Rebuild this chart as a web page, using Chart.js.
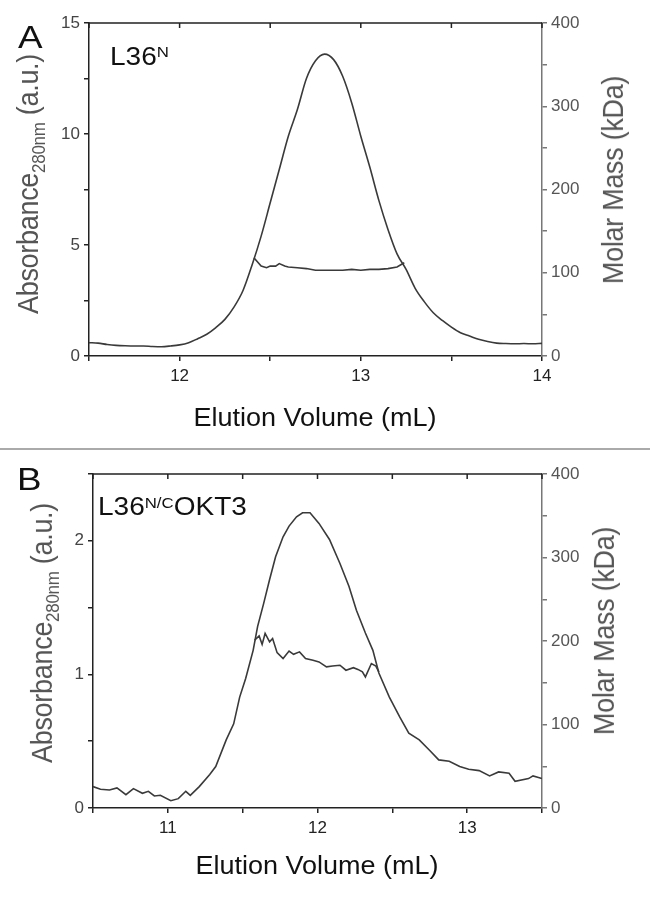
<!DOCTYPE html>
<html>
<head>
<meta charset="utf-8">
<script src="https://cdn.jsdelivr.net/npm/chart.js@4.4.1/dist/chart.umd.min.js"></script>
<style>
  body { margin: 0; background: #fff; }
  #wrap { position: relative; width: 650px; height: 900px; overflow: hidden;
          font-family: "Liberation Sans", Arial, sans-serif; }
  canvas { position: absolute; left: 0; }
  .t { position: absolute; white-space: nowrap; line-height: 1; color: #111; transform-origin: left top; }
  .yt { position: absolute; white-space: nowrap; line-height: 1; color: #555; font-size: 27px; letter-spacing: -0.3px; }
  .xt { position: absolute; white-space: nowrap; line-height: 1; color: #111; font-size: 25px; }
  .sub { font-size: 17px; position: relative; top: 6px; }
  .sup { position: relative; }
  #divider { position: absolute; left: 0; top: 448px; width: 650px; height: 2px; background: #aaa; }
</style>
</head>
<body>
<div id="wrap">
  <canvas id="chartA" width="650" height="449" style="top:0"></canvas>
  <canvas id="chartB" width="650" height="449" style="top:451px"></canvas>
  <div id="divider"></div>

  <div class="t" style="left:18px;top:21px;font-size:32px;transform:scaleX(1.15)">A</div>
  <div class="t" style="left:110px;top:44px;font-size:25px;transform:scaleX(1.12)">L36<span class="sup" style="font-size:15px;top:-8px">N</span></div>
  <div class="yt" style="left:28.5px;top:184px;transform:translate(-50%,-50%) scaleX(1.1) rotate(-90deg)">Absorbance<span class="sub">280nm</span> (a.u.)</div>
  <div class="yt" style="left:614px;top:180px;transform:translate(-50%,-50%) scaleX(1.1) rotate(-90deg)">Molar Mass (kDa)</div>
  <div class="xt" style="left:315px;top:405px;transform:translateX(-50%) scaleX(1.08)">Elution Volume (mL)</div>

  <div class="t" style="left:17px;top:463px;font-size:32px;transform:scaleX(1.15)">B</div>
  <div class="t" style="left:98px;top:494px;font-size:25px;transform:scaleX(1.12)">L36<span class="sup" style="font-size:15px;top:-7px">N/C</span>OKT3</div>
  <div class="yt" style="left:43px;top:633px;transform:translate(-50%,-50%) scaleX(1.1) rotate(-90deg)">Absorbance<span class="sub">280nm</span> (a.u.)</div>
  <div class="yt" style="left:605px;top:631px;transform:translate(-50%,-50%) scaleX(1.1) rotate(-90deg)">Molar Mass (kDa)</div>
  <div class="xt" style="left:317px;top:853px;transform:translateX(-50%) scaleX(1.08)">Elution Volume (mL)</div>
</div>

<script>
// panel A : L36N
const volA = [11.50, 11.55, 11.60, 11.65, 11.70, 11.75, 11.80, 11.85, 11.90, 11.95,
  12.00, 12.05, 12.10, 12.15, 12.20, 12.25, 12.30, 12.35, 12.40, 12.45,
  12.50, 12.55, 12.60, 12.65, 12.70, 12.75, 12.80, 12.85, 12.90, 12.95,
  13.00, 13.05, 13.10, 13.15, 13.20, 13.25, 13.30, 13.35, 13.40, 13.45,
  13.50, 13.55, 13.60, 13.65, 13.70, 13.75, 13.80, 13.85, 13.90, 13.95, 14.00];
const absA = [0.60, 0.58, 0.52, 0.48, 0.46, 0.45, 0.45, 0.43, 0.42, 0.45,
  0.50, 0.60, 0.78, 0.98, 1.28, 1.65, 2.20, 2.95, 4.10, 5.40,
  6.90, 8.40, 9.90, 11.10, 12.50, 13.30, 13.60, 13.35, 12.60, 11.40,
  9.90, 8.50, 7.00, 5.70, 4.60, 3.90, 3.05, 2.45, 1.95, 1.60,
  1.30, 1.05, 0.90, 0.75, 0.65, 0.58, 0.56, 0.55, 0.56, 0.55, 0.57];
const massVolA = [12.41, 12.45, 12.48, 12.50, 12.53, 12.55, 12.58, 12.60, 12.65, 12.70, 12.75,
  12.80, 12.85, 12.90, 12.95, 13.00, 13.05, 13.10, 13.15, 13.20, 13.24];
const massA = [118, 108, 106, 108, 108, 111, 108, 107, 106, 105, 103,
  103, 103, 103, 104, 103, 104, 104, 105, 107, 112];

// panel B : L36N/C OKT3
const volB = [10.50, 10.55, 10.61, 10.66, 10.72, 10.77, 10.83, 10.87, 10.91, 10.95,
  11.02, 11.07, 11.12, 11.15, 11.21, 11.28, 11.32, 11.39, 11.44, 11.48,
  11.52, 11.57, 11.60, 11.64, 11.68, 11.72, 11.77, 11.81, 11.86, 11.90,
  11.95, 12.01, 12.08, 12.15, 12.21, 12.26, 12.32, 12.37, 12.41, 12.48,
  12.55, 12.61, 12.68, 12.75, 12.81, 12.88, 12.95, 13.01, 13.08, 13.15,
  13.21, 13.28, 13.32, 13.41, 13.44, 13.50];
const absB = [0.16, 0.14, 0.135, 0.15, 0.10, 0.145, 0.11, 0.125, 0.09, 0.095,
  0.055, 0.07, 0.125, 0.095, 0.16, 0.25, 0.31, 0.51, 0.63, 0.83,
  0.97, 1.18, 1.36, 1.53, 1.71, 1.88, 2.03, 2.11, 2.18, 2.21,
  2.21, 2.13, 2.01, 1.83, 1.66, 1.48, 1.31, 1.18, 1.01, 0.83,
  0.68, 0.56, 0.51, 0.43, 0.36, 0.35, 0.31, 0.29, 0.28, 0.24,
  0.27, 0.26, 0.20, 0.22, 0.24, 0.22];
const massVolB = [11.58, 11.61, 11.63, 11.65, 11.68, 11.70, 11.73, 11.77, 11.81, 11.84,
  11.88, 11.92, 11.97, 12.01, 12.06, 12.10, 12.15, 12.19, 12.24, 12.27,
  12.30, 12.32, 12.36, 12.39, 12.41];
const massB = [201, 206, 196, 209, 199, 203, 186, 179, 188, 184,
  187, 179, 177, 175, 169, 170, 171, 165, 168, 166,
  163, 157, 173, 170, 163];

// labelled ticks
const xLabelsA = [12, 13, 14];
const yLabelsA = [0, 5, 10, 15];
const xLabelsB = [11, 12, 13];
const yLabelsB = [0, 1, 2];
const massLabels = [0, 100, 200, 300, 400];

Chart.defaults.font.family = '"Liberation Sans", Arial, sans-serif';

const pts = (xs, ys) => xs.map((x, i) => ({ x: x, y: ys[i] }));

// top frame line with inward ticks
const topFrame = {
  id: "topFrame",
  afterDatasetsDraw(chart) {
    const { ctx, chartArea, scales } = chart;
    ctx.save();
    ctx.strokeStyle = "#222";
    ctx.lineWidth = 1.5;
    ctx.beginPath();
    ctx.moveTo(chartArea.left, chartArea.top);
    ctx.lineTo(chartArea.right, chartArea.top);
    scales.x.ticks.forEach((t) => {
      const px = scales.x.getPixelForValue(t.value);
      ctx.moveTo(px, chartArea.top);
      ctx.lineTo(px, chartArea.top + 5);
    });
    ctx.stroke();
    ctx.restore();
  },
};

function makeChart(id, o) {
  const lineCol = "#3a3a3a";
  return new Chart(document.getElementById(id), {
    type: "line",
    data: {
      datasets: [
        {
          data: pts(o.vol, o.abs),
          yAxisID: "y",
          borderColor: lineCol,
          borderWidth: 1.6,
          pointRadius: 0,
          cubicInterpolationMode: o.smooth ? "monotone" : "default",
          tension: 0,
        },
        {
          data: pts(o.massVol, o.mass),
          yAxisID: "y2",
          borderColor: lineCol,
          borderWidth: 1.6,
          pointRadius: 0,
          tension: 0,
        },
      ],
    },
    options: {
      responsive: false,
      animation: false,
      layout: { padding: { top: 23, left: 0, right: 0, bottom: 0 } },
      plugins: { legend: { display: false }, tooltip: { enabled: false } },
      scales: {
        x: {
          type: "linear",
          position: "bottom",
          min: o.xMin,
          max: o.xMax,
          border: { color: "#222", width: 1.5 },
          grid: { drawOnChartArea: false, tickLength: 5, color: "#222", lineWidth: 1.5 },
          ticks: {
            stepSize: 0.5,
            autoSkip: false,
            maxRotation: 0,
            padding: 5,
            color: "#222",
            font: { size: 17 },
            callback: (v) => (o.xLabels.includes(v) ? v : ""),
          },
          afterFit: (s) => { s.height = o.bottomH; },
        },
        y: {
          position: "left",
          min: 0,
          max: o.yMax,
          border: { color: "#222", width: 1.5 },
          grid: { drawOnChartArea: false, tickLength: 5, color: "#222", lineWidth: 1.5 },
          ticks: {
            stepSize: o.yStep,
            autoSkip: false,
            padding: 4,
            color: "#444",
            font: { size: 17 },
            callback: (v) => (o.yLabels.includes(v) ? v : ""),
          },
          afterFit: (s) => { s.width = o.leftW; },
        },
        y2: {
          position: "right",
          min: 0,
          max: 400,
          border: { color: "#777", width: 1.5 },
          grid: { drawOnChartArea: false, tickLength: 5, color: "#777", lineWidth: 1.5 },
          ticks: {
            stepSize: 50,
            autoSkip: false,
            padding: 4,
            color: "#555",
            font: { size: 17 },
            callback: (v) => (massLabels.includes(v) ? v : ""),
          },
          afterFit: (s) => { s.width = 108; },
        },
      },
    },
    plugins: [topFrame],
  });
}

makeChart("chartA", {
  vol: volA, abs: absA, massVol: massVolA, mass: massA, smooth: true,
  xMin: 11.5, xMax: 14, xLabels: xLabelsA,
  yMax: 15, yStep: 2.5, yLabels: yLabelsA,
  leftW: 89, bottomH: 93,
});

makeChart("chartB", {
  vol: volB, abs: absB, massVol: massVolB, mass: massB, smooth: false,
  xMin: 10.5, xMax: 13.5, xLabels: xLabelsB,
  yMax: 2.5, yStep: 0.5, yLabels: yLabelsB,
  leftW: 93, bottomH: 92,
});
</script>
</body>
</html>
